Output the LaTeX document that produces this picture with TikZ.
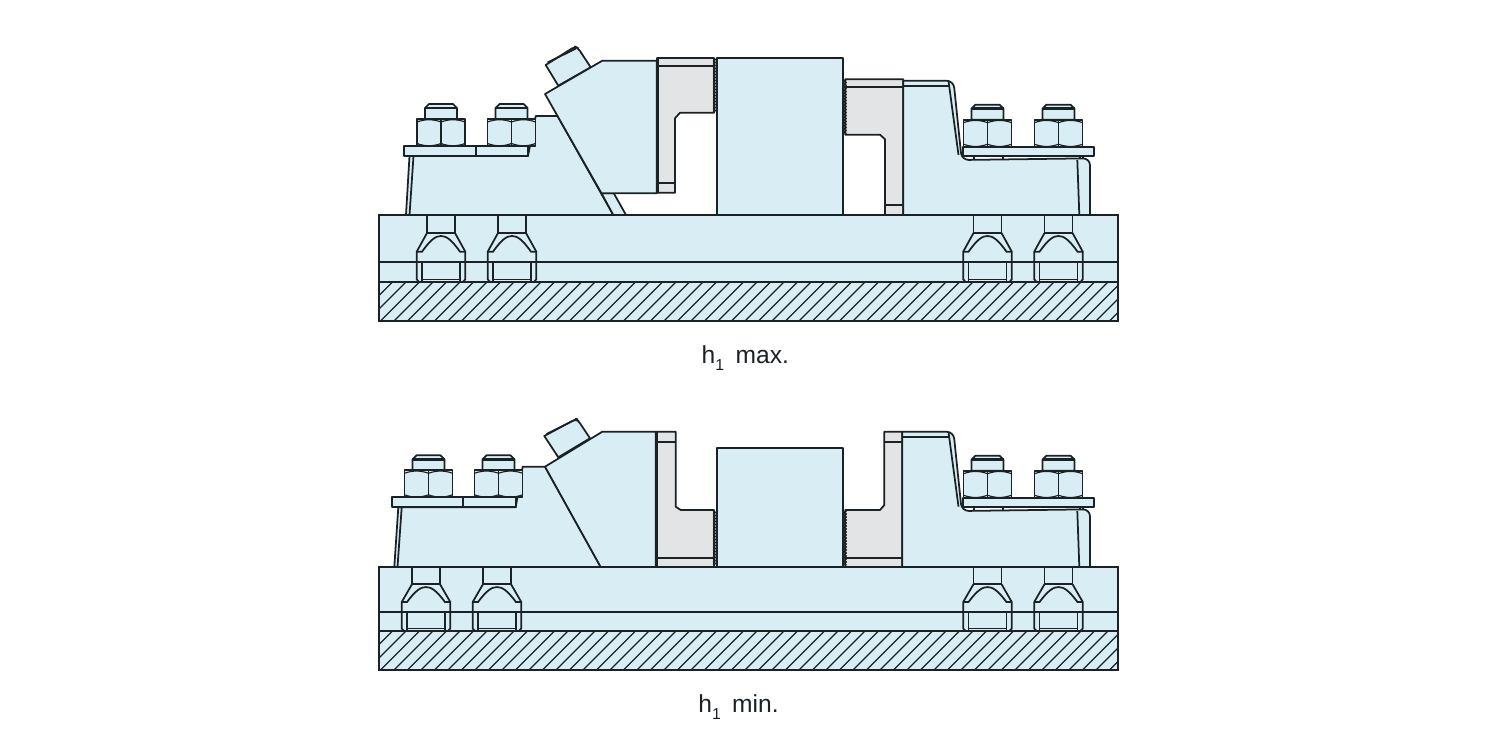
\documentclass[tikz,border=0pt]{standalone}
\usepackage{fontspec}
\setmainfont{Liberation Sans}
\usepackage{xcolor}
\usepackage{tikz}
\definecolor{steelblue}{HTML}{D9EEF4}
\definecolor{jawgrey}{HTML}{E3E4E6}
\definecolor{inkline}{HTML}{1A2226}

\begin{document}
\begin{tikzpicture}[
    x=0.02cm, y=-0.02cm,
    part/.style={draw=inkline, fill=steelblue, line width=1pt, line join=round},
    jaw/.style={draw=inkline, fill=jawgrey, line width=1pt, line join=round},
    edge/.style={draw=inkline, line width=1pt},
    heavy/.style={draw=inkline, line width=1.7pt},
    fine/.style={draw=inkline, line width=0.65pt},
    caption/.style={font=\fontsize{14}{17}\selectfont, text=inkline, inner sep=0pt},
    nutset/.pic={
        \draw[part] (-16,-27) -- (-16,-38) -- (-12,-42) -- (12,-42) -- (16,-38) -- (16,-27) -- cycle;
        \draw[heavy] (-16,-38) -- (16,-38);
        \draw[part] (-24,-27) rectangle (24,0);
        \draw[edge] (0,-27) -- (0,0);
        \draw[fine] (-24,-24) .. controls (-16,-27) and (-8,-27) .. (0,-24) .. controls (8,-27) and (16,-27) .. (24,-24);
        \draw[fine] (-24,-2.5) .. controls (-16,.5) and (-8,.5) .. (0,-2.5) .. controls (8,.5) and (16,.5) .. (24,-2.5);
    },
    tbolt/.pic={
        \draw[edge] (-14,0) -- (-14,18) -- (14,18) -- (14,0);
        \draw[edge] (-14,18) -- (-24.3,36.7) -- (-24.3,64.3) -- (-22,67);
        \draw[edge] (14,18) -- (24.3,36.7) -- (24.3,64.3) -- (22,67);
        \draw[edge] (-24.3,36.7) -- (-19,36.7) .. controls (-10,24) and (-5,21) .. (0,21) .. controls (5,21) and (10,24) .. (19,36.7) -- (24.3,36.7);
        \draw[edge] (-19,47) -- (-19,67);
        \draw[edge] (19,47) -- (19,67);
        \draw[fine] (-19,64.3) -- (19,64.3);
    }
]
    \useasboundingbox (0,0) rectangle (1500,750);

    % upper clamp, h1 max
    \draw[part] (379,215) rectangle (1118,321);
    \begin{scope}
        \clip (379,282) rectangle (1118,321);
        \foreach \hx in {340,353.5,...,1120}
            \draw[fine] (\hx,321) -- ++(39,-39);
    \end{scope}
    \draw[edge] (379,262) -- (1118,262);
    \draw[edge] (379,282) -- (1118,282);
    \draw[edge] (379,215) rectangle (1118,321);
    \foreach \bx in {441,512,987.5,1058.5}
        \pic at (\bx,215) {tbolt};

    \draw[part] (406,215) -- (409.5,156) -- (528,156) -- (535.7,116) -- (557.5,116) -- (613.3,215) -- cycle;
    \draw[edge] (409.5,215) -- (413.5,156);
    \draw[part] (601.5,193.3) -- (613.8,193.3) -- (626,215) -- (613.3,215) -- cycle;
    \draw[part] (404,146) rectangle (528,156);
    \draw[edge] (476,146) -- (476,156);
    \pic at (441,146) {nutset};
    \pic at (511.5,146) {nutset};
    \draw[part] (558.3,85.7) -- (545.7,65) [rounded corners=2] -- (575,46.5) -- (578,48) [sharp corners] -- (590.7,67.3) -- cycle;
    \draw[edge] (547.5,62.5) -- (576,48.5);
    \draw[part] (545,94) -- (602.3,60.7) -- (656.7,60.7) -- (656.7,193.3) -- (601.5,193.3) -- cycle;

    \draw[jaw] (657,58) -- (714,58) -- (714,112.7) -- (680,112.7) -- (675,118.3) -- (675,192.7) -- (657,192.7) -- cycle;
    \draw[edge] (657,66) -- (714,66);
    \draw[edge] (657,183.3) -- (675,183.3);
    \draw[heavy] (657,58) -- (657,193);
    \foreach \ty in {58,61,...,110}
        \draw[fine] (713,\ty) -- ++(3,1.5) -- ++(-3,1.5);

    \draw[part] (717,58) rectangle (843,215);

    \draw[jaw] (845.3,79.3) -- (903.3,79.3) -- (903.3,215) -- (885,215) -- (885,139.3) -- (880,134.7) -- (845.3,134.7) -- cycle;
    \draw[edge] (845.3,86.7) -- (903.3,86.7);
    \draw[edge] (885,205) -- (903.3,205);
    \foreach \ty in {79.5,82.5,...,132}
        \draw[fine] (846.5,\ty) -- ++(-3,1.5) -- ++(3,1.5);

    \draw[part] (903.3,80.7) [rounded corners=4] -- (953.5,80.7) -- (961.7,160) -- (1090,158.3) -- (1090,175) [sharp corners] -- (1090,215) -- (903.3,215) -- cycle;
    \draw[edge] (903.3,86) -- (949.5,86);
    \draw[edge] (948.5,81) -- (958.5,155);
    \draw[edge] (1077.3,160) -- (1079.3,215);
    \draw[edge] (974,155.7) -- (974,160);
    \draw[edge] (1003.3,155.7) -- (1003.3,160);
    \draw[fine] (1080,155.7) -- (1080,159);
    \draw[fine] (1083,155.7) -- (1083,159);
    \draw[part] (962.7,146.7) rectangle (1094,155.7);
    \pic at (987.5,146.7) {nutset};
    \pic at (1058.5,146.7) {nutset};

    \node[caption] (maxlabel) at (745.3,358) {h\raisebox{-4pt}{\fontsize{9}{9}\selectfont 1}\hspace{6.5pt}max.};

    % lower clamp, h1 min
    \draw[part] (379,567) rectangle (1118,670);
    \begin{scope}
        \clip (379,631) rectangle (1118,670);
        \foreach \hx in {340,353.5,...,1120}
            \draw[fine] (\hx,670) -- ++(39,-39);
    \end{scope}
    \draw[edge] (379,612) -- (1118,612);
    \draw[edge] (379,631) -- (1118,631);
    \draw[edge] (379,567) rectangle (1118,670);
    \foreach \bx in {426,497,987.5,1058.5}
        \pic[yscale=.955] at (\bx,567) {tbolt};

    \draw[part] (394.3,567) -- (398.3,507.3) -- (515.7,507.3) -- (522.7,466.7) -- (545,466.7) -- (600.7,567) -- cycle;
    \draw[edge] (397.5,567) -- (401.7,507.3);
    \draw[part] (392.3,497.3) rectangle (515.7,507.3);
    \draw[edge] (463.3,497.3) -- (463.3,507.3);
    \pic at (428.5,497.3) {nutset};
    \pic at (498.5,497.3) {nutset};
    \draw[part] (558.3,457.3) -- (544.3,436) [rounded corners=2] -- (576,419) -- (578.5,421) [sharp corners] -- (590,438.3) -- cycle;
    \draw[edge] (546.5,434) -- (577.5,418.5);
    \draw[part] (545,466.7) -- (602.3,431.7) -- (655.7,431.7) -- (655.7,567) -- (600.7,567) -- cycle;

    \draw[jaw] (656,431.7) -- (675.7,431.7) -- (675.7,506.7) -- (680.7,510) -- (714,510) -- (714,567) -- (656,567) -- cycle;
    \draw[edge] (656,442.3) -- (675.7,442.3);
    \draw[edge] (656,557.7) -- (714,557.7);
    \draw[heavy] (656,431.7) -- (656,567);
    \foreach \ty in {511,514,...,563}
        \draw[fine] (713,\ty) -- ++(3,1.5) -- ++(-3,1.5);

    \draw[part] (717,448.3) rectangle (843,567);

    \draw[jaw] (845.3,510) -- (880,510) -- (884.3,505) -- (884.3,431.7) -- (902.3,431.7) -- (902.3,567) -- (845.3,567) -- cycle;
    \draw[edge] (884.3,442.3) -- (902.3,442.3);
    \draw[edge] (845.3,557.7) -- (902.3,557.7);
    \foreach \ty in {511,514,...,563}
        \draw[fine] (846.5,\ty) -- ++(-3,1.5) -- ++(3,1.5);

    \draw[part] (902.3,431.7) [rounded corners=4] -- (953.5,431.7) -- (961.7,511) -- (1090,509.3) -- (1090,525) [sharp corners] -- (1090,567) -- (902.3,567) -- cycle;
    \draw[edge] (902.3,437.3) -- (949.5,437.3);
    \draw[edge] (948.5,432) -- (958.5,506.7);
    \draw[edge] (1077.3,511) -- (1079.3,567);
    \draw[edge] (974,506.7) -- (974,510.5);
    \draw[edge] (1003.3,506.7) -- (1003.3,510.5);
    \draw[fine] (1080,506.7) -- (1080,510);
    \draw[fine] (1083,506.7) -- (1083,510);
    \draw[part] (962.7,497.7) rectangle (1094,506.7);
    \pic at (987.5,497.7) {nutset};
    \pic at (1058.5,497.7) {nutset};

    \node[caption] (minlabel) at (738.5,707) {h\raisebox{-4pt}{\fontsize{9}{9}\selectfont 1}\hspace{6.5pt}min.};
\end{tikzpicture}
\end{document}
